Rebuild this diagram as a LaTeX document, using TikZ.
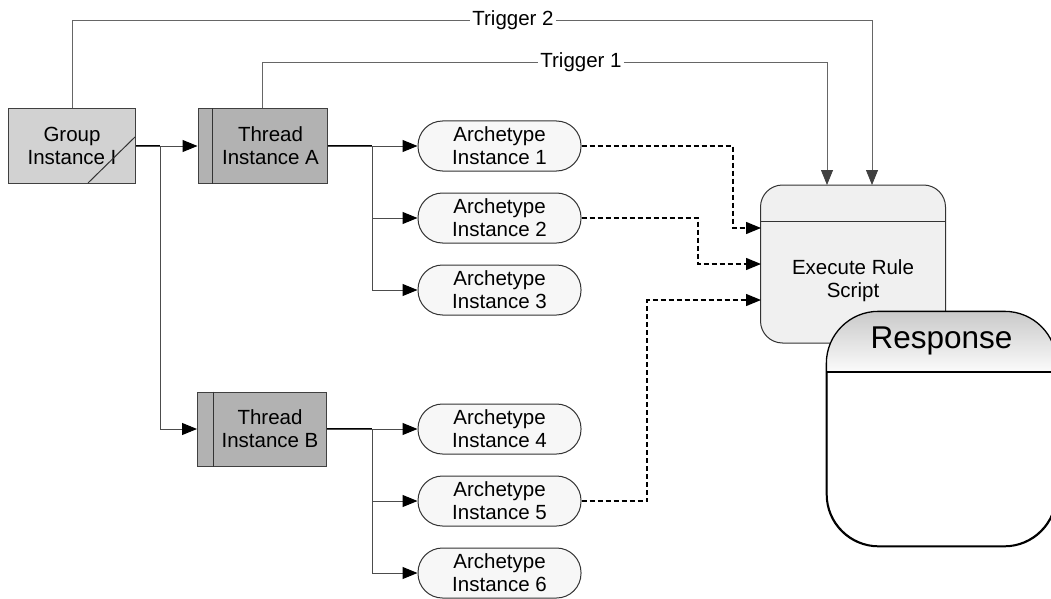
\documentclass[tikz,border=0pt]{standalone}
\usepackage{fontspec}
\setmainfont{Liberation Sans}
\usetikzlibrary{arrows.meta}
\begin{document}
\begin{tikzpicture}[x=1pt,y=-1pt,
  every node/.style={font=\fontsize{20.5}{23}\selectfont, align=center, inner sep=0pt},
  tip/.style={-{Triangle[length=15pt,width=12pt,fill=black,color=black]}},
  conn/.style={draw=black!70, line width=1pt, tip},
  dconn/.style={draw=black, line width=1.3pt, dash pattern=on 5pt off 3pt, tip},
  trig/.style={draw=black!60, line width=0.8pt},
  trigarrow/.style={trig, -{Triangle[length=15pt,width=12pt,fill=black!75,color=black!75]}},
  groupbox/.style={draw=black!75, line width=1pt, fill=gray!35, minimum width=127, minimum height=75},
  threadbox/.style={draw=black!75, line width=1pt, fill=gray!60, minimum width=129, minimum height=74},
  archbox/.style={draw=black!80, line width=1pt, fill=gray!6, rounded corners=24.5pt, minimum width=163, minimum height=50},
  execbox/.style={draw=black!80, line width=1pt, fill=gray!12, rounded corners=22pt, minimum width=185, minimum height=158},
  respbox/.style={draw=black, line width=1.3pt, fill=white, rounded corners=52pt, minimum width=229, minimum height=234}
]
\useasboundingbox (0,0) rectangle (1051,599);
\fill[white] (0,0) rectangle (1051,599);

% group
\node[groupbox] (gi) at (72,146) {Group\\Instance I};
\draw[black!80, line width=1pt] (88,183) -- (135,137);

% threads
\node[threadbox, label={[xshift=8pt, align=center]center:Thread\\Instance A}] (ta) at (262.5,146) {};
\draw[black!80, line width=1pt] ([xshift=15pt]ta.north west) -- ([xshift=15pt]ta.south west);
\node[threadbox, label={[xshift=8pt, align=center]center:Thread\\Instance B}] (tb) at (262,429) {};
\draw[black!80, line width=1pt] ([xshift=16pt]tb.north west) -- ([xshift=16pt]tb.south west);

% archetypes
\node[archbox] (a1) at (499.5,146) {Archetype\\Instance 1};
\node[archbox] (a2) at (499.5,218) {Archetype\\Instance 2};
\node[archbox] (a3) at (499.5,290) {Archetype\\Instance 3};
\node[archbox] (a4) at (499.5,429) {Archetype\\Instance 4};
\node[archbox] (a5) at (499.5,501) {Archetype\\Instance 5};
\node[archbox] (a6) at (499.5,573) {Archetype\\Instance 6};

% execute rule script
\node[execbox] (ers) at (853,264) {};
\draw[black!80, line width=1pt] (ers.west |- 0,221) -- (ers.east |- 0,221);
\node (erst) at (853,281) {Execute Rule\\Script};

% solid connectors
\draw[black, line width=1.5pt] (gi.east) -- (160,146);
\draw[conn] (gi.east) -- (ta.west);
\draw[conn] (gi.east) -- (160,146) |- (tb.west);
\draw[black, line width=1.5pt] (ta.east) -- (372,146);
\draw[conn] (ta.east) -- (a1.west);
\draw[conn] (ta.east) -- (372,146) |- (a2.west);
\draw[conn] (ta.east) -- (372,146) |- (a3.west);
\draw[black, line width=1.5pt] (tb.east) -- (372,429);
\draw[conn] (tb.east) -- (a4.west);
\draw[conn] (tb.east) -- (372,429) |- (a5.west);
\draw[conn] (tb.east) -- (372,429) |- (a6.west);

% dashed connectors
\coordinate (e1) at (761,228);
\coordinate (e2) at (761,264);
\coordinate (e3) at (761,300);
\draw[dconn] (a1.east) -| (733,228) -- (e1);
\draw[dconn] (a2.east) -| (698,264) -- (e2);
\draw[dconn] (a5.east) -| (647,300) -- (e3);

% triggers
\coordinate (t1end) at (827,185);
\coordinate (t2end) at (872,185);
\node[fill=white, inner xsep=2pt] (t2lab) at (513,20) {Trigger 2};
\node[fill=white, inner xsep=2pt] (t1lab) at (581,62) {Trigger 1};
\draw[trig] (gi.north) |- (t2lab.west);
\draw[trigarrow] (t2lab.east) -| (t2end);
\draw[trig] (ta.north) |- (t1lab.west);
\draw[trigarrow] (t1lab.east) -| (t1end);

% response
\node[respbox] (resp) at (941.5,429) {};
\begin{scope}
  \clip[rounded corners=52pt] (resp.south west) rectangle (resp.north east);
  \shade[top color=gray!42, bottom color=gray!3] (resp.north west) rectangle (resp.east |- 0,372);
\end{scope}
\draw[black, line width=1.3pt, rounded corners=52pt] (resp.south west) rectangle (resp.north east);
\draw[black, line width=1.3pt] (resp.west |- 0,372) -- (resp.east |- 0,372);
\node[font=\fontsize{31.5}{36}\selectfont] (respt) at (941.5,341) {Response};
\end{tikzpicture}
\end{document}
